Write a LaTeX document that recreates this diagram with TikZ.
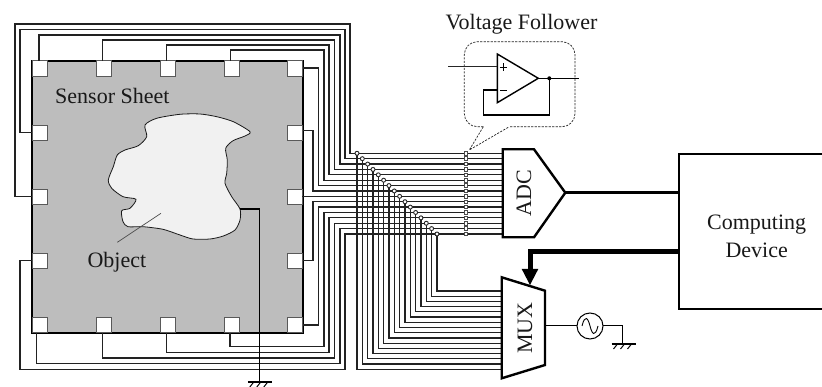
\documentclass[tikz,border=0pt]{standalone}
\usepackage{fontspec}
\setmainfont{Liberation Serif}
\usetikzlibrary{arrows.meta}
\definecolor{sheetgray}{HTML}{BDBDBD}
\definecolor{objgray}{HTML}{F1F1F1}
\definecolor{wirecol}{HTML}{222222}
\tikzset{
  wire/.style={draw=wirecol,line width=1.2pt},
  padbox/.style={draw=black!65,line width=.8pt,fill=white,minimum size=15.5pt,inner sep=0pt,outer sep=0pt},
  dotnode/.style={circle,draw=black!85,line width=.9pt,fill=white,minimum size=4pt,inner sep=0pt,outer sep=0pt},
  follow/.style={rectangle,draw=black!70,line width=.8pt,fill=white,minimum size=3.6pt,inner sep=0pt,outer sep=0pt},
  heavy/.style={draw=black,line width=2.4pt,line join=miter},
  label/.style={font=\fontsize{22}{26}\selectfont,text=black!90,inner sep=0pt},
  gnd/.style={draw=black,line width=1pt},
}
\newcommand{\groundsym}[2]{%
  \draw[draw=black,line width=2pt] (#1-12,#2) -- (#1+12,#2);
  \foreach \gx in {-7,0,7}{\draw[gnd] (#1+\gx+1,#2) -- (#1+\gx-3,#2+5);}
}
\begin{document}
\begin{tikzpicture}[x=1pt,y=-1pt]
\useasboundingbox (0,0) rectangle (822,387);
\fill[white] (0,0) rectangle (822,387);
% sheet
\node[draw=black,line width=1.9pt,fill=sheetgray,minimum width=271pt,minimum height=272pt,inner sep=0pt,outer sep=0pt] (sheet) at (167.5,196.7) {};
% object
\draw[draw=black!90,line width=.8pt,fill=objgray] plot[smooth cycle,tension=.45] coordinates {
(145,125)(156.7,118.3)(180,114.3)(200,114)(216.7,116.7)(233.3,121.7)(250,131.7)(245,136)(233,140.7)(225.7,148.3)(227.3,160)(226.7,173.3)(225,183.3)(231.7,196.7)(240,209)(240,220)(235,230)(223.3,236)(210,239)(193,239)(180,235)(163,229.3)(143,226.7)(128,226.7)(123,221.7)(121.7,210.7)(130,208.3)(136,199.3)(123,196.7)(111.7,188.3)(108.3,180)(113.3,166.7)(117.3,155)(125,150)(138.3,145.7)(146.7,136.7)};
\node[label,anchor=base west] (sensorlabel) at (55,103.3) {Sensor Sheet};
\node[label,anchor=base west] (objlabel) at (87.3,267.3) {Object};
\coordinate (leadA) at (161,213.3);
\coordinate (leadB) at (117.3,242.3);
\draw[draw=black!70,line width=.7pt] (leadA) -- (leadB);
% pads
\foreach \n/\x in {1/40,2/104,3/168,4/232,5/295}{
  \node[padbox] (pT\n) at (\x,68.5) {};
  \node[padbox] (pB\n) at (\x,325) {};
}
\foreach \n/\y in {1/132.8,2/196.8,3/260.8}{
  \node[padbox] (pL\n) at (40,\y) {};
  \node[padbox] (pR\n) at (295,\y) {};
}
% levels: dots, followers, ADC and MUX ends
\foreach \i in {1,...,16}{
  \pgfmathsetmacro{\ly}{153.3+(\i-1)*5.38}
  \pgfmathsetmacro{\dx}{357+(\i-1)*5.33}
  \pgfmathsetmacro{\my}{369.3-(\i-1)*5.22}
  \coordinate (a\i) at (502,\ly);
  \coordinate (m\i) at (501,\my);
  \coordinate (d\i) at (\dx,\ly);
  \coordinate (f\i) at (466,\ly);
  \coordinate (e\i) at (\dx,\my);
}
% wires sheet to levels
\draw[wire] (pL2.west) -- (15,196.8) -- (15,24) -- (350,24) |- (a1);
\draw[wire] (pL1.west) -- (20,132.8) -- (20,29.5) -- (345,29.5) |- (a2);
\draw[wire] ([xshift=-1pt]pT1.north) -- (39,35) -- (340,35) |- (a3);
\draw[wire] ([xshift=-1.3pt]pT2.north) -- (102.7,40) -- (334.5,40) |- (a4);
\draw[wire] ([xshift=-1.7pt]pT3.north) -- (166.3,45) -- (329,45) |- (a5);
\draw[wire] ([xshift=-1.7pt]pT4.north) -- (230.3,50) -- (324,50) |- (a6);
\draw[wire] ([yshift=.5pt]pT5.east) -- (318.5,68) |- (a7);
\draw[wire] ([yshift=2pt]pR1.east) -- (313,130.8) |- (a8);
\draw[wire] (pR2.east) |- (a9);
\draw[wire] (pR3.east) -- (313,260.8) |- (a10);
\draw[wire] (pB5.east) -- (318.3,325) |- (a11);
\draw[wire] ([xshift=-2pt]pB4.south) -- (230,346.7) -- (324,346.7) |- (a12);
\draw[wire] ([xshift=-1.7pt]pB3.south) -- (166.3,352.7) -- (329,352.7) |- (a13);
\draw[wire] ([xshift=-1.3pt]pB2.south) -- (102.7,358) -- (334.5,358) |- (a14);
\draw[wire] ([xshift=-3.3pt]pB1.south) -- (36.7,363.7) -- (340,363.7) |- (a15);
\draw[wire] (pL3.west) -- (20,260.8) -- (20,369.3) -- (345,369.3) |- (a16);
% wires levels to MUX
\foreach \i in {1,...,16}{
  \draw[wire] (d\i) -- (e\i) -- (m\i);
}
\foreach \i in {1,...,16}{
  \node[dotnode] (dn\i) at (d\i) {};
  \node[follow] (fn\i) at (f\i) {};
}
% ADC, MUX
\draw[heavy,fill=white] (502.7,149.3) -- (534,149.3) -- (565.3,192.7) -- (534,237.3) -- (502.7,237.3) -- cycle;
\coordinate (adctip) at (565.3,192.7);
\node[label,rotate=90] (adc) at (524,193) {ADC};
\draw[heavy,fill=white] (501.7,277.3) -- (545,290.7) -- (545,365) -- (501.7,378.3) -- cycle;
\coordinate (muxtop) at (530,285);
\coordinate (muxout) at (545,326);
\node[label,rotate=90] (mux) at (525,328) {MUX};
% computing device (its right side is cut off by the picture edge)
\draw[heavy] (823,154.3) -- (678.7,154.3) -- (678.7,309.3) -- (823,309.3);
\coordinate (cdA) at (678.7,192.7);
\coordinate (cdB) at (678.7,251.7);
\node[label] (comp) at (756.7,225) {Computing};
\node[label] (dev) at (756.7,250.7) {Device};
\draw[heavy] (adctip) -- (cdA);
\draw[draw=black,line width=5pt] (cdB) -- (530,251.7) -- (530,270);
\fill[black] (521.7,269) -- (538.3,269) -- (muxtop) -- cycle;
% source
\node[circle,draw=black,line width=1pt,fill=white,minimum size=26pt,inner sep=0pt,outer sep=0pt] (src) at (590,326) {};
\draw[draw=black,line width=.9pt] (582,326) .. controls (585,314) and (588,318) .. (590,326) .. controls (592,334) and (595,338) .. (598,326);
\draw[draw=black,line width=1pt] (muxout) -- (src.west);
\coordinate (gndA) at (622.7,344);
\draw[draw=black,line width=1pt] (src.east) -- (622.7,326) -- (gndA);
\groundsym{623.5}{344}
% object ground
\coordinate (objout) at (240,209);
\coordinate (gndB) at (259.3,382);
\draw[draw=black,line width=1.6pt] (objout) -- (259.3,209) -- (gndB);
\groundsym{259.8}{382}
% voltage follower
\node[label,anchor=base] (vf) at (521.5,30) {Voltage Follower};
\draw[draw=black!85,line width=.7pt,dash pattern=on 2.2pt off 1.3pt,rounded corners=13pt,fill=none]
  (483.3,126.7) -- (464.3,126.7) -- (464.3,41.7) -- (575,41.7) -- (575,126.7) -- (509.3,126.7);
\coordinate (tail) at (469.3,150);
\draw[draw=black!85,line width=.7pt,dash pattern=on 2.2pt off 1.3pt] (483.3,126.7) -- (tail) -- (509.3,126.7);
\draw[draw=black,line width=1.4pt,line join=miter] (497.3,54) -- (538.3,78.3) -- (497.3,102.7) -- cycle;
\coordinate (oapIn) at (497.3,66.7);
\coordinate (oapNeg) at (497.3,90);
\coordinate (oapOut) at (538.3,78.3);
\coordinate (fb) at (549.3,78.3);
\coordinate (inL) at (448.3,66.7);
\coordinate (outR) at (579.3,78.3);
\draw[draw=black!85,line width=1.2pt] (inL) -- (oapIn);
\draw[draw=black,line width=1.1pt] (oapNeg) -- (483.3,90) -- (483.3,115) -- (549.3,115) -- (fb);
\draw[draw=black,line width=1.1pt] (oapOut) -- (outR);
\fill[black] (fb) circle (2pt);
\draw[draw=black,line width=.8pt] (499.5,67) -- (507,67) (503.3,63.3) -- (503.3,70.7);
\draw[draw=black,line width=.8pt] (500,90) -- (507,90);
\end{tikzpicture}
\end{document}
